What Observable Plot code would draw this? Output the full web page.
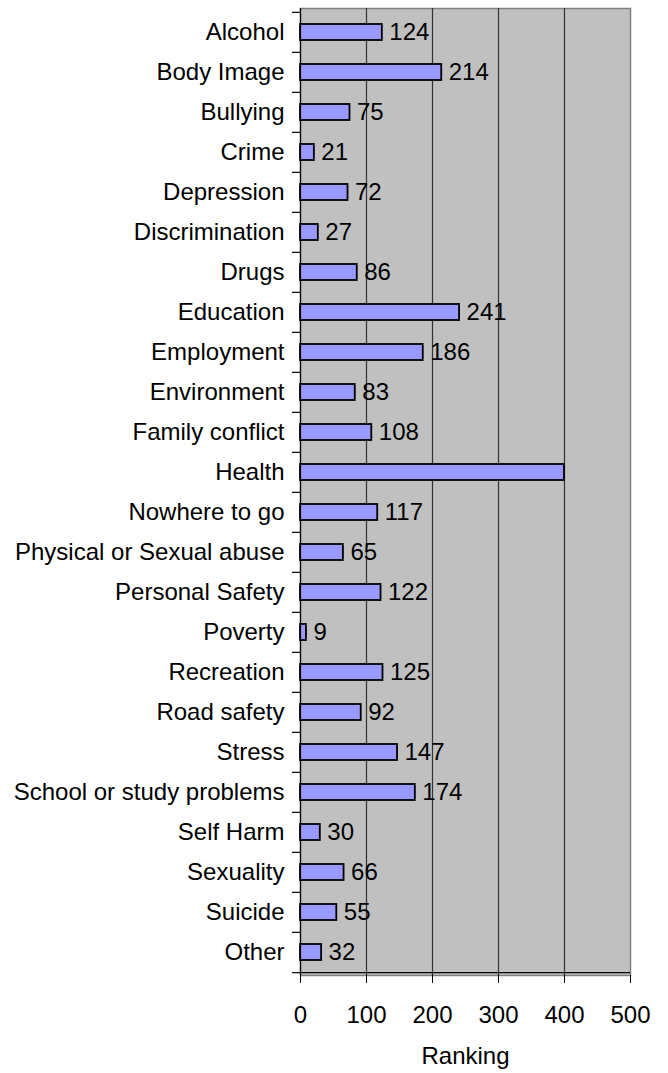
<!DOCTYPE html>
<html>
<head>
<meta charset="utf-8">
<script src="https://cdn.jsdelivr.net/npm/d3@7"></script>
<script src="https://cdn.jsdelivr.net/npm/@observablehq/plot@0.6"></script>
<style>
body { margin: 0; background: #fff; }
#chart svg { font-family: "Liberation Sans", Arial, sans-serif; }
#chart svg text { font-size: 24px; fill: #000; }
</style>
</head>
<body>
<div id="chart"></div>
<script>
const categories = ["Alcohol","Body Image","Bullying","Crime","Depression","Discrimination","Drugs","Education","Employment","Environment","Family conflict","Health","Nowhere to go","Physical or Sexual abuse","Personal Safety","Poverty","Recreation","Road safety","Stress","School or study problems","Self Harm","Sexuality","Suicide","Other"];
const values = [124,214,75,21,72,27,86,241,186,83,108,400,117,65,122,9,125,92,147,174,30,66,55,32];
const labelShown = categories.map(c => c !== "Health");
const xTicks = [0,100,200,300,400,500];
const gridTicks = [100,200,300,400];

const data = categories.map((c, i) => ({category: c, value: values[i], show: labelShown[i]}));

const W = 668, H = 1073, mT = 8, mB = 98, mL = 300, mR = 38;
const step = (H - mT - mB) / categories.length;

const chart = Plot.plot({
  width: W,
  height: H,
  marginTop: mT,
  marginBottom: mB,
  marginLeft: mL,
  marginRight: mR,
  style: {fontFamily: "Liberation Sans, Arial, sans-serif", fontSize: "24px", color: "#000", background: "#fff"},
  x: {domain: [0, 500], ticks: xTicks, label: "Ranking", labelAnchor: "center", labelArrow: "none"},
  y: {domain: categories, padding: 0, label: null},
  marks: [
    Plot.frame({fill: "#c0c0c0", stroke: "#808080", strokeWidth: 1.5}),
    Plot.ruleX(gridTicks, {stroke: "#333", strokeWidth: 1.2}),
    Plot.barX(data, {y: "category", x: "value", fill: "#9999ff", stroke: "#000", strokeWidth: 1.8, insetTop: 12, insetBottom: 12}),
    Plot.text(data.filter(d => d.show), {y: "category", x: "value", text: d => String(d.value), dx: 7, textAnchor: "start", fontSize: 24, fill: "#000"}),
    Plot.ruleX([0], {stroke: "#000", strokeWidth: 1.2}),
    Plot.ruleY(categories, {y: d => d, x1: -12, x2: 0, dy: -step / 2, stroke: "#000", strokeWidth: 1.2}),
    Plot.ruleY([categories[categories.length - 1]], {y: d => d, x1: -12, x2: 0, dy: step / 2, stroke: "#000", strokeWidth: 1.2}),
    Plot.ruleY([categories[categories.length - 1]], {y: d => d, x1: 0, x2: 500, dy: step / 2, stroke: "#000", strokeWidth: 1.2}),
    Plot.axisX({ticks: xTicks, tickSize: 8, tickPadding: 22, fontSize: 24, label: "Ranking", labelAnchor: "center", labelArrow: "none", labelOffset: 88}),
    Plot.axisY({tickSize: 0, tickPadding: 16, fontSize: 24, label: null})
  ]
});
document.getElementById("chart").appendChild(chart);
</script>
</body>
</html>
